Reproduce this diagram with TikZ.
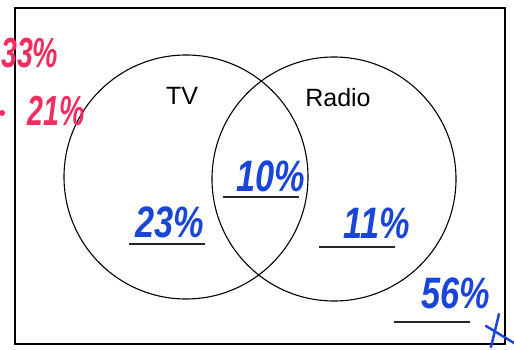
\documentclass[tikz,border=0pt]{standalone}
\usepackage{fontspec}
\setmainfont{Liberation Sans}
\definecolor{penblue}{RGB}{25,70,215}
\definecolor{penred}{RGB}{240,45,95}
\tikzset{
  setc/.style={circle,draw=black,line width=1.1pt,minimum size=244pt,inner sep=0pt},
  lbl/.style={font=\fontsize{25}{30}\selectfont,inner sep=0pt},
  hand/.style={text=penblue,font=\fontsize{44}{48}\selectfont\bfseries\itshape,xscale=0.78,inner sep=0pt},
  redhand/.style={text=penred,font=\fontsize{42}{46}\selectfont\bfseries\itshape,xscale=0.68,inner sep=0pt},
  uline/.style={line width=1.2pt,black!85},
}
\begin{document}
\begin{tikzpicture}[x=1pt,y=-1pt]
\useasboundingbox (0,0) rectangle (514,350);
\clip (0,0) rectangle (514,350);
\node[draw=black,line width=1.3pt,minimum width=490pt,minimum height=336pt,inner sep=0pt] (frame) at (260,176) {};
\node[setc] (tv) at (186,177) {};
\node[setc] (radio) at (334,179) {};
\node[lbl] (tvl) at (182,96) {TV};
\node[lbl] (radiol) at (338,98) {Radio};
% handwritten values
\node[hand] (both) at (271,176) {10\%};
\node[hand] (tvonly) at (170,222) {23\%};
\node[hand] (ronly) at (377,223) {11\%};
\node[hand] (none) at (456,293) {56\%};
\coordinate (b1) at (223,197); \coordinate (b2) at (299,197);
\coordinate (t1) at (129,244); \coordinate (t2) at (205,244);
\coordinate (r1) at (319,247); \coordinate (r2) at (395,247);
\coordinate (n1) at (394,322); \coordinate (n2) at (470,322);
\draw[uline] (b1) -- (b2);
\draw[uline] (t1) -- (t2);
\draw[uline] (r1) -- (r2);
\draw[uline] (n1) -- (n2);
% red margin notes
\node[redhand,anchor=west] (tvtot) at (1,53) {33\%};
\node[redhand] (radtot) at (56,111) {21\%};
\fill[penred] (2,113) circle (3pt);
% blue tick mark at bottom right
\coordinate (k1) at (491,347); \coordinate (k2) at (499,314);
\coordinate (k3) at (486,326); \coordinate (k4) at (514,343);
\draw[penblue,line width=2.5pt,line cap=round] (k1) -- (k2);
\draw[penblue,line width=2.5pt,line cap=round] (k3) -- (k4);
\end{tikzpicture}
\end{document}
